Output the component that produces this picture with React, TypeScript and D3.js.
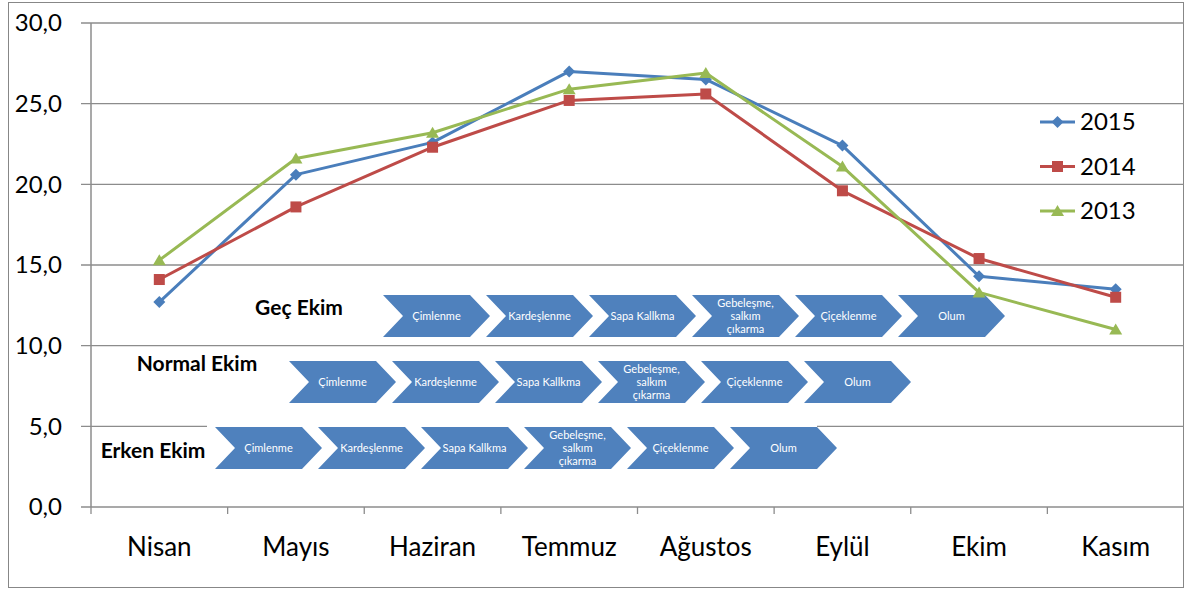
import React from 'react';
import * as d3 from 'd3';

const months = ['Nisan', 'Mayıs', 'Haziran', 'Temmuz', 'Ağustos', 'Eylül', 'Ekim', 'Kasım'];
const v2015 = [12.7, 20.6, 22.6, 27.0, 26.5, 22.4, 14.3, 13.5];
const v2014 = [14.1, 18.6, 22.3, 25.2, 25.6, 19.6, 15.4, 13.0];
const v2013 = [15.3, 21.6, 23.2, 25.9, 26.9, 21.1, 13.3, 11.0];
const yTicks = [0, 5, 10, 15, 20, 25, 30];

const stages = ['Çimlenme', 'Kardeşlenme', 'Sapa Kallkma', 'Gebeleşme,\nsalkım\nçıkarma', 'Çiçeklenme', 'Olum'];
const rows = ['Geç Ekim', 'Normal Ekim', 'Erken Ekim'];

const FONT = 'Lato, "Open Sans", sans-serif';

const series = [
  { name: '2015', values: v2015, color: '#4A7EBB', marker: 'diamond' },
  { name: '2014', values: v2014, color: '#BE4B48', marker: 'square' },
  { name: '2013', values: v2013, color: '#98B954', marker: 'triangle' },
];

const Marker = ({ type, x, y, color }: { type: string; x: number; y: number; color: string }) => {
  if (type === 'diamond') {
    return <path d={`M${x},${y - 6}L${x + 6},${y}L${x},${y + 6}L${x - 6},${y}Z`} fill={color} />;
  }
  if (type === 'square') {
    return <rect x={x - 5.5} y={y - 5.5} width={11} height={11} fill={color} />;
  }
  return <path d={`M${x},${y - 6}L${x + 6.5},${y + 5}L${x - 6.5},${y + 5}Z`} fill={color} />;
};

const App = () => {
  const width = 1192;
  const height = 590;
  const left = 91, right = 1184, top = 23, bottom = 507;

  const x = d3.scaleBand<string>().domain(months).range([left, right]);
  const y = d3.scaleLinear().domain([0, 30]).range([bottom, top]);
  const cx = (m: string) => (x(m) as number) + x.bandwidth() / 2;

  const line = d3.line<number>()
    .x((_, i) => cx(months[i]))
    .y(d => y(d));

  // smartart-like process rows (layout)
  const chevW = 107, notch = 20, stride = 103, chevH = 42;
  const rowX = [383, 289, 215];
  const rowY = [295, 361, 427];
  const labelX = [299, 197, 153];
  const labelY = [308, 364, 451];
  const chevron = (x0: number, y0: number) =>
    `M${x0},${y0}L${x0 + chevW - notch},${y0}L${x0 + chevW},${y0 + chevH / 2}L${x0 + chevW - notch},${y0 + chevH}L${x0},${y0 + chevH}L${x0 + notch},${y0 + chevH / 2}Z`;

  return (
    <svg width={width} height={height} style={{ position: 'absolute', left: 0, top: 0 }}>
      <rect x={0} y={0} width={width} height={height} fill="#fff" />
      <rect x={8.5} y={2.5} width={1175} height={585} fill="none" stroke="#878787" strokeWidth={1} />

      {/* gridlines */}
      {yTicks.map(t => (
        <line key={t} x1={81} x2={right} y1={y(t)} y2={y(t)} stroke="#8c8c8c" strokeWidth={1.3} />
      ))}
      {yTicks.map(t => (
        <text key={'l' + t} x={62} y={y(t)} dy="0.35em" textAnchor="end" fontFamily={FONT} fontSize={24} fill="#000">
          {d3.format('.1f')(t).replace('.', ',')}
        </text>
      ))}
      <line x1={left} x2={left} y1={top} y2={bottom} stroke="#8c8c8c" strokeWidth={1.5} />
      {months.map(m => (
        <line key={'t' + m} x1={x(m)} x2={x(m)} y1={bottom} y2={bottom + 7} stroke="#8c8c8c" strokeWidth={1.3} />
      ))}
      {months.map(m => (
        <text key={m} x={cx(m)} y={547} dy="0.35em" textAnchor="middle" fontFamily={FONT} fontSize={26} fill="#000">
          {m}
        </text>
      ))}

      {/* white backing of the early-sowing row */}
      <rect x={207} y={y(5) - 1.5} width={610} height={4} fill="#fff" />

      {/* phenology rows */}
      {rows.map((r, ri) => {
        const x0 = rowX[ri];
        const y0 = rowY[ri];
        return (
          <g key={r}>
            <text x={labelX[ri]} y={labelY[ri]} dy="0.35em" textAnchor="middle" fontFamily={FONT} fontWeight="bold" fontSize={21} fill="#000">
              {r}
            </text>
            {stages.map((s, si) => {
              const sx = x0 + si * stride;
              const lines = s.split('\n');
              const mid = sx + chevW / 2;
              return (
                <g key={s}>
                  <path d={chevron(sx, y0)} fill="#4F81BD" />
                  <text x={mid} y={y0 + chevH / 2 - (lines.length - 1) * 6.5} fontFamily={FONT} fontSize={11} fill="#fff" textAnchor="middle">
                    {lines.map((l, li) => (
                      <tspan key={li} x={mid} dy={li === 0 ? '0.35em' : 13}>{l}</tspan>
                    ))}
                  </text>
                </g>
              );
            })}
          </g>
        );
      })}

      {/* series */}
      {series.map(s => (
        <g key={s.name}>
          <path d={line(s.values) as string} fill="none" stroke={s.color} strokeWidth={3} strokeLinejoin="round" />
          {s.values.map((v, i) => (
            <Marker key={i} type={s.marker} x={cx(months[i])} y={y(v)} color={s.color} />
          ))}
        </g>
      ))}

      {/* legend */}
      {series.map((s, i) => {
        const ly = 122 + i * 44.5;
        return (
          <g key={'lg' + s.name}>
            <line x1={1040} x2={1075} y1={ly} y2={ly} stroke={s.color} strokeWidth={3} />
            <Marker type={s.marker} x={1057.5} y={ly} color={s.color} />
            <text x={1080} y={ly} dy="0.35em" fontFamily={FONT} fontSize={24} fill="#000">{s.name}</text>
          </g>
        );
      })}
    </svg>
  );
};

export default App;
